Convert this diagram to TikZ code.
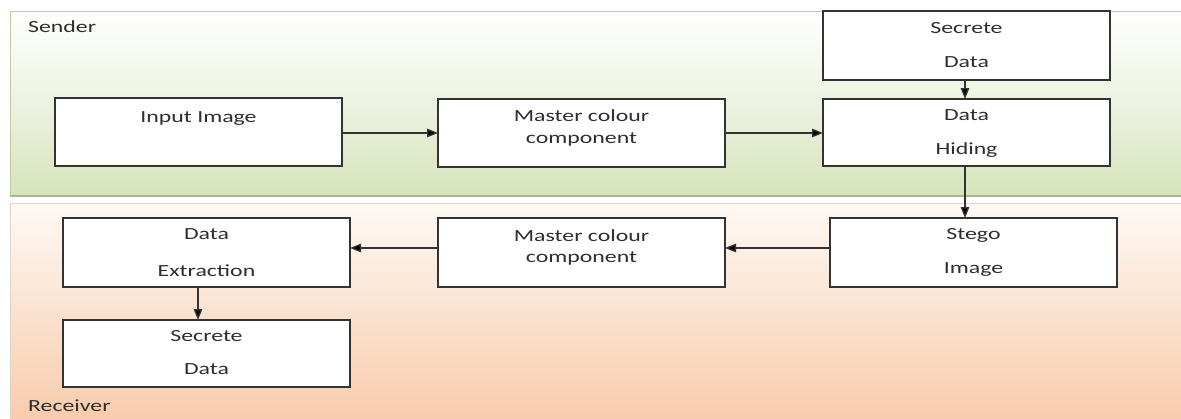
\documentclass[tikz,border=0pt]{standalone}
\usepackage{fontspec}
\setmainfont{Carlito}[FakeStretch=1.4]
\usetikzlibrary{arrows.meta}
\definecolor{sendbot}{HTML}{D5E3BA}
\definecolor{sendline}{HTML}{BFCBA2}
\definecolor{sendshadow}{HTML}{A8B68C}
\definecolor{recvtop}{HTML}{FEF9F4}
\definecolor{recvbot}{HTML}{F8CCAC}
\definecolor{recvline}{HTML}{DDD5C6}
\definecolor{boxline}{HTML}{333333}
\definecolor{txtcol}{HTML}{2E2E2E}
\tikzset{
  box/.style={draw=boxline, line width=1.4pt, fill=white, minimum width=287pt, inner sep=0pt, outer sep=0pt},
  txt/.style={anchor=base, text=txtcol, font=\fontsize{17}{20}\selectfont, inner sep=0pt},
  lbl/.style={anchor=base west, text=txtcol, font=\fontsize{17}{20}\selectfont, inner sep=0pt},
  flow/.style={draw=boxline, line width=1.3pt, -{Triangle[length=11pt,width=8.5pt,fill=black]}}
}
\begin{document}
\begin{tikzpicture}[x=1pt,y=-1pt]
\useasboundingbox (0,0) rectangle (1181,418);
% bands
\shade[top color=white, bottom color=sendbot, middle color=white!55!sendbot] (10,11) rectangle (1181,196);
\draw[sendline, line width=0.8pt] (1181,11) -- (10,11) -- (10,196);
\draw[sendshadow, line width=2pt] (10,195.5) -- (1181,195.5);
\shade[top color=recvtop, bottom color=recvbot] (10,203) rectangle (1181,418);
\draw[recvline, line width=0.8pt] (1181,203) -- (10,203) -- (10,418);
\node[lbl] (sender) at (28,32) {Sender};
\node[lbl] (receiver) at (28,411) {Receiver};
% boxes
\node[box, minimum height=68pt] (input) at (198.5,132) {};
\node[box, minimum height=68pt] (mcc1) at (581.5,133) {};
\node[box, minimum height=69pt] (sd1) at (966.5,45.5) {};
\node[box, minimum height=67pt] (dh) at (966.5,132.5) {};
\node[box, minimum height=69pt] (stego) at (973.5,252.5) {};
\node[box, minimum height=69pt] (mcc2) at (581.5,252.5) {};
\node[box, minimum height=69pt] (dx) at (206.5,252.5) {};
\node[box, minimum height=67pt] (sd2) at (206.5,353.5) {};
% texts
\node[txt] (t1) at (198.5,122) {Input Image};
\node[txt] (t2a) at (581.5,121) {Master colour};
\node[txt] (t2b) at (581.5,143) {component};
\node[txt] (t3a) at (966.5,33) {Secrete};
\node[txt] (t3b) at (966.5,67) {Data};
\node[txt] (t4a) at (966.5,120) {Data};
\node[txt] (t4b) at (966.5,154) {Hiding};
\node[txt] (t5a) at (973.5,239) {Stego};
\node[txt] (t5b) at (973.5,273) {Image};
\node[txt] (t6a) at (581.5,241) {Master colour};
\node[txt] (t6b) at (581.5,262) {component};
\node[txt] (t7a) at (206.5,239) {Data};
\node[txt] (t7b) at (206.5,276) {Extraction};
\node[txt] (t8a) at (206.5,341) {Secrete};
\node[txt] (t8b) at (206.5,374) {Data};
% connectors
\draw[flow] (input.east |- 0,133) -- (mcc1.west |- 0,133);
\draw[flow] (mcc1.east |- 0,133) -- (dh.west |- 0,133);
\draw[flow] (sd1.south -| 965,0) -- (dh.north -| 965,0);
\draw[flow] (dh.south -| 965,0) -- (stego.north -| 965,0);
\draw[flow] (stego.west |- 0,248) -- (mcc2.east |- 0,248);
\draw[flow] (mcc2.west |- 0,248) -- (dx.east |- 0,248);
\draw[flow] (dx.south -| 198,0) -- (sd2.north -| 198,0);
\end{tikzpicture}
\end{document}
